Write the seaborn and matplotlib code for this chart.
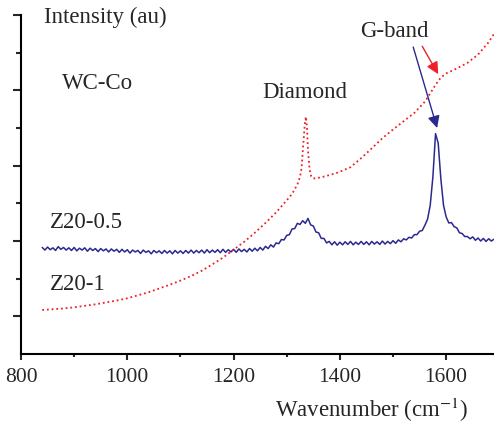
import numpy as np
import pandas as pd
import seaborn as sns
import matplotlib.pyplot as plt

# Z20-0.5 spectrum (blue), sampled every 5 cm-1 from 840 to 1690
z05_wavenumber = np.arange(840, 1691, 5)
z05_intensity = [
    2.83, 2.76, 2.84, 2.77, 2.82, 2.75, 2.85, 2.78, 2.83, 2.76,
    2.82, 2.75, 2.83, 2.74, 2.81, 2.76, 2.82, 2.73, 2.81, 2.75,
    2.80, 2.72, 2.80, 2.74, 2.79, 2.71, 2.79, 2.73, 2.78, 2.70,
    2.78, 2.71, 2.77, 2.68, 2.76, 2.71, 2.75, 2.67, 2.76, 2.70,
    2.74, 2.66, 2.75, 2.69, 2.74, 2.67, 2.75, 2.68, 2.74, 2.66,
    2.75, 2.68, 2.74, 2.67, 2.75, 2.68, 2.76, 2.68, 2.75, 2.69,
    2.76, 2.68, 2.77, 2.69, 2.76, 2.70, 2.77, 2.69, 2.78, 2.70,
    2.77, 2.71, 2.78, 2.70, 2.79, 2.72, 2.78, 2.71, 2.80, 2.73,
    2.81, 2.74, 2.83, 2.76, 2.86, 2.80, 2.90, 2.84, 2.95, 2.93,
    3.04, 3.03, 3.15, 3.17, 3.32, 3.33, 3.47, 3.44, 3.54, 3.47,
    3.60, 3.43, 3.40, 3.24, 3.22, 3.07, 3.07, 2.95, 2.99, 2.90,
    2.98, 2.89, 2.97, 2.90, 2.98, 2.91, 2.99, 2.90, 2.97, 2.91,
    2.99, 2.91, 2.98, 2.90, 2.99, 2.92, 2.98, 2.91, 3.00, 2.92,
    2.99, 2.93, 3.01, 2.94, 3.03, 2.98, 3.06, 3.03, 3.10, 3.08,
    3.17, 3.17, 3.26, 3.28, 3.42, 3.58, 3.95, 4.70, 5.85, 5.60,
    4.65, 3.95, 3.64, 3.48, 3.49, 3.38, 3.35, 3.22, 3.20, 3.12,
    3.12, 3.06, 3.11, 3.02, 3.08, 3.00, 3.07, 2.99, 3.06, 3.00,
    3.05,
]

# Z20-1 spectrum (red, dotted)
z1_wavenumber = [
    840, 860, 880, 900, 920, 940, 960, 980, 1000, 1020, 1040, 1060, 1080,
    1100, 1120, 1140, 1160, 1180, 1200, 1220, 1240, 1260, 1280, 1300, 1310,
    1320, 1325, 1328, 1331, 1334, 1336, 1338, 1340, 1343, 1346, 1350, 1360,
    1370, 1380, 1390, 1400, 1420, 1440, 1460, 1480, 1500, 1520, 1540, 1560,
    1570, 1580, 1590, 1600, 1620, 1640, 1660, 1680, 1690,
]
z1_intensity = [
    1.17, 1.19, 1.21, 1.24, 1.28, 1.32, 1.37, 1.42, 1.48, 1.56, 1.64, 1.74, 1.84,
    1.95, 2.07, 2.21, 2.38, 2.56, 2.77, 2.98, 3.22, 3.48, 3.76, 4.08, 4.25,
    4.50, 4.70, 4.95, 5.55, 6.10, 6.30, 6.05, 5.40, 4.90, 4.72, 4.66, 4.68,
    4.71, 4.75, 4.79, 4.84, 4.96, 5.20, 5.46, 5.73, 5.96, 6.18, 6.40, 6.70,
    6.92, 7.15, 7.34, 7.45, 7.58, 7.73, 7.95, 8.28, 8.50,
]

blue = "#2a2a8e"
red = "#ee2028"

sns.set_theme(style="ticks")
plt.rcParams["font.family"] = ["Liberation Serif", "DejaVu Serif"]
plt.rcParams["mathtext.fontset"] = "stix"

df05 = pd.DataFrame({"wavenumber": z05_wavenumber, "intensity": z05_intensity})
df1 = pd.DataFrame({"wavenumber": z1_wavenumber, "intensity": z1_intensity})

fig = plt.figure(figsize=(4.94, 4.23), dpi=100)
ax = fig.add_axes([0.0425, 0.163, 0.9575, 0.8015])

sns.lineplot(data=df05, x="wavenumber", y="intensity", ax=ax, color=blue,
             linewidth=1.1, estimator=None, sort=False)
sns.lineplot(data=df1, x="wavenumber", y="intensity", ax=ax, color=red,
             linewidth=1.3, linestyle=(0, (1, 1.6)), estimator=None, sort=False)

ax.set_xlim(800, 1690)
ax.set_ylim(0, 9)
ax.set_xticks([800, 1000, 1200, 1400, 1600])
ax.set_xticks([900, 1100, 1300, 1500], minor=True)
ax.set_yticks([1, 3, 5, 7, 9])
ax.set_yticks([2, 4, 6, 8], minor=True)
ax.set_yticklabels([])
ax.set_ylabel("")
ax.tick_params(axis="x", which="major", length=4, width=1.5, labelsize=15.5, pad=6)
ax.tick_params(axis="x", which="minor", length=2.5, width=1.5)
ax.tick_params(axis="y", which="major", length=6, width=1.5)
ax.tick_params(axis="y", which="minor", length=3.6, width=1.5)
for s in ["left", "bottom"]:
    ax.spines[s].set_linewidth(1.5)
    ax.spines[s].set_color("black")
sns.despine(ax=ax)

ax.set_xlabel("Wavenumber (cm$^{-1}$)", fontsize=16.5, va="center")
ax.xaxis.set_label_coords(0.742, -0.165)

ax.text(843, 8.93, "Intensity (au)", fontsize=16.5, va="center", ha="left")
ax.text(877, 7.19, "WC-Co", fontsize=16.5, va="center", ha="left")
ax.text(1254, 6.93, "Diamond", fontsize=16.5, va="center", ha="left")
ax.text(1438, 8.57, "G-band", fontsize=16.5, va="center", ha="left")
ax.text(855, 3.50, "Z20-0.5", fontsize=16.5, va="center", ha="left")
ax.text(855, 1.84, "Z20-1", fontsize=16.5, va="center", ha="left")

ax.annotate("", xy=(1583, 6.0), xytext=(1538, 8.15),
            arrowprops=dict(arrowstyle="-|>", color=blue, lw=1.0,
                            mutation_scale=18, shrinkA=0, shrinkB=0))
ax.annotate("", xy=(1585, 7.43), xytext=(1555, 8.17),
            arrowprops=dict(arrowstyle="-|>", color=red, lw=1.0,
                            mutation_scale=18, shrinkA=0, shrinkB=0))

fig.savefig("out.png", dpi=100)
